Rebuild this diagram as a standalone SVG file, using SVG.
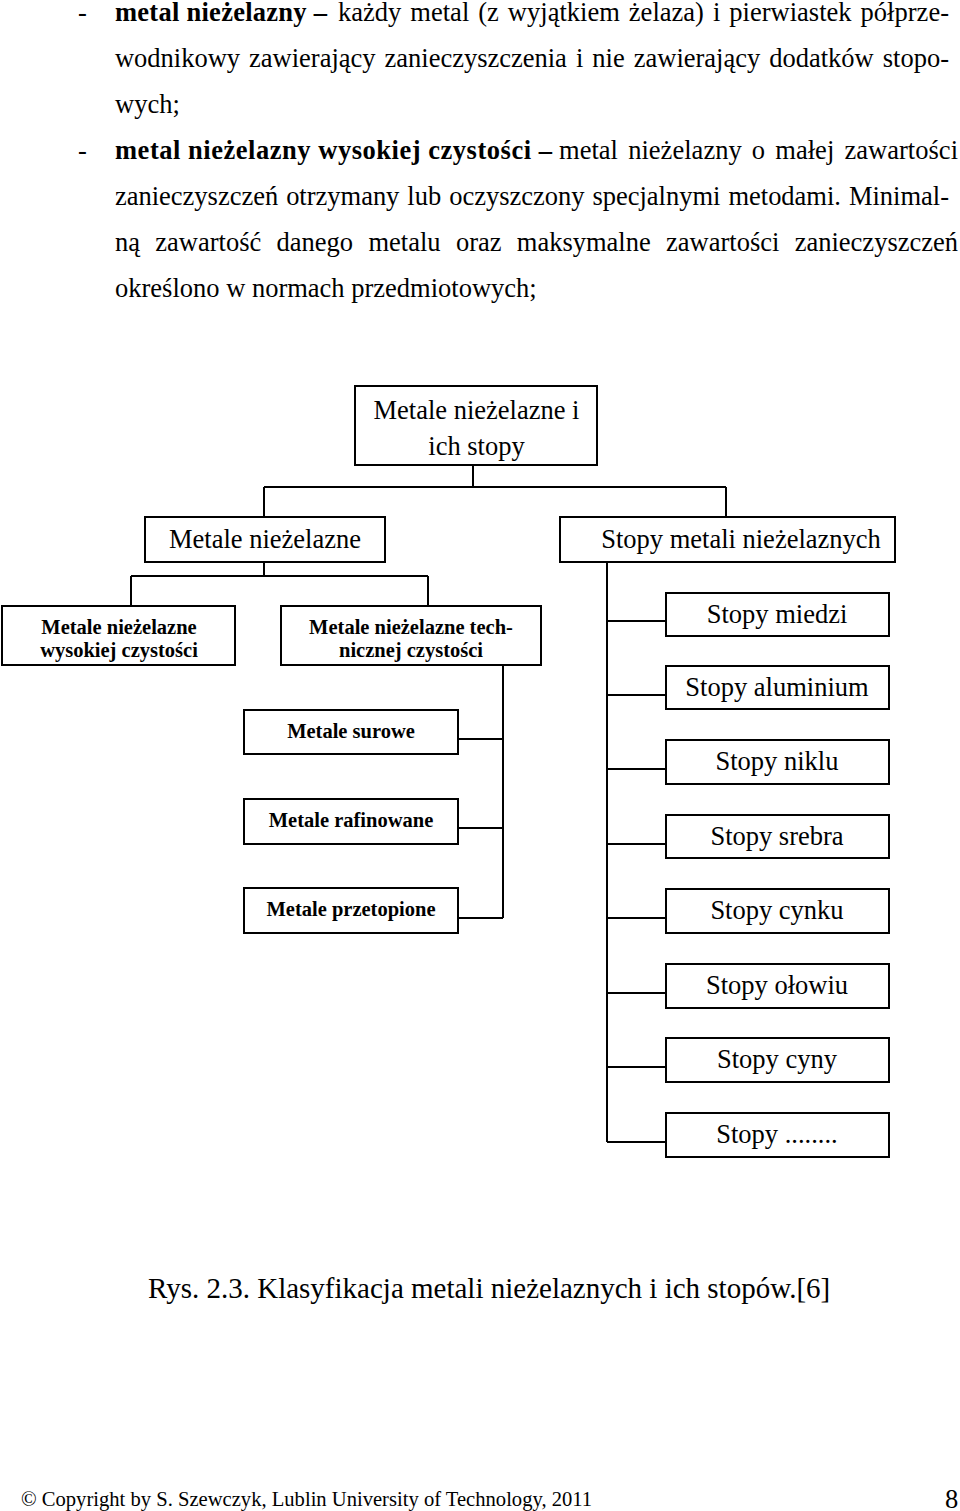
<svg xmlns="http://www.w3.org/2000/svg" width="960" height="1511" viewBox="0 0 960 1511">
<style>
text{font-family:"Liberation Serif","Times New Roman",serif;fill:#000}
.body{font-size:26.5px}
.b{font-weight:bold}
.box{fill:#fff;stroke:#000;stroke-width:2}
.lbl{font-size:26.5px;text-anchor:middle}
.blbl{font-size:20.5px;font-weight:bold;text-anchor:middle}
.con{fill:none;stroke:#000;stroke-width:2}
</style>
<rect width="960" height="1511" fill="#fff"/>
<g id="bodytext">
<text class="body" x="78" y="21">-</text>
<text class="body b" x="115" y="21" textLength="212" lengthAdjust="spacing">metal nieżelazny –</text>
<text class="body" x="338" y="21" word-spacing="2.3" textLength="611" lengthAdjust="spacing">każdy metal (z wyjątkiem żelaza) i pierwiastek półprze-</text>
<text class="body" x="115" y="67" word-spacing="2.5" textLength="834" lengthAdjust="spacing">wodnikowy zawierający zanieczyszczenia i nie zawierający dodatków stopo-</text>
<text class="body" x="115" y="113">wych;</text>
<text class="body" x="78" y="159">-</text>
<text class="body b" x="115" y="159" textLength="437" lengthAdjust="spacing">metal nieżelazny wysokiej czystości –</text>
<text class="body" x="559" y="159" word-spacing="3.5" textLength="399" lengthAdjust="spacing">metal nieżelazny o małej zawartości</text>
<text class="body" x="115" y="205" word-spacing="1.4" textLength="834" lengthAdjust="spacing">zanieczyszczeń otrzymany lub oczyszczony specjalnymi metodami. Minimal-</text>
<text class="body" x="115" y="251" word-spacing="8.7" textLength="843" lengthAdjust="spacing">ną zawartość danego metalu oraz maksymalne zawartości zanieczyszczeń</text>
<text class="body" x="115" y="297">określono w normach przedmiotowych;</text>
</g>
<g id="connectors">
<path class="con" d="M473,465V487M264,487H726M264,487V517M726,487V517"/>
<path class="con" d="M264,562V576M131,576H428M131,576V606M428,576V606"/>
<path class="con" d="M503,665V918M458,739H503M458,828H503M458,918H503"/>
<path class="con" d="M607,562V1142M607,621H666M607,695H666M607,769H666M607,844H666M607,918H666M607,993H666M607,1067H666M607,1142H666"/>
</g>
<g id="n-root"><rect class="box" x="355" y="386" width="242" height="79"/><text class="lbl" x="476.5" y="419">Metale nieżelazne i</text><text class="lbl" x="476.5" y="455">ich stopy</text></g>
<g id="n-metale"><rect class="box" x="145" y="517" width="240" height="45"/><text class="lbl" x="265" y="548">Metale nieżelazne</text></g>
<g id="n-stopy"><rect class="box" x="560" y="517" width="335" height="45"/><text class="lbl" x="741" y="548">Stopy metali nieżelaznych</text></g>
<g id="n-wysokiej"><rect class="box" x="2" y="606" width="233" height="59"/><text class="blbl" x="119" y="634">Metale nieżelazne</text><text class="blbl" x="119" y="657">wysokiej czystości</text></g>
<g id="n-techniczne"><rect class="box" x="281" y="606" width="260" height="59"/><text class="blbl" x="411" y="634">Metale nieżelazne tech-</text><text class="blbl" x="411" y="657">nicznej czystości</text></g>
<g id="n-surowe"><rect class="box" x="244" y="710" width="214" height="44"/><text class="blbl" x="351" y="738">Metale surowe</text></g>
<g id="n-rafinowane"><rect class="box" x="244" y="799" width="214" height="45"/><text class="blbl" x="351" y="827">Metale rafinowane</text></g>
<g id="n-przetopione"><rect class="box" x="244" y="888" width="214" height="45"/><text class="blbl" x="351" y="916">Metale przetopione</text></g>
<g id="n-miedzi"><rect class="box" x="666" y="593" width="223" height="43"/><text class="lbl" x="777" y="623">Stopy miedzi</text></g>
<g id="n-aluminium"><rect class="box" x="666" y="666" width="223" height="43"/><text class="lbl" x="777" y="696">Stopy aluminium</text></g>
<g id="n-niklu"><rect class="box" x="666" y="740" width="223" height="44"/><text class="lbl" x="777" y="770">Stopy niklu</text></g>
<g id="n-srebra"><rect class="box" x="666" y="815" width="223" height="43"/><text class="lbl" x="777" y="845">Stopy srebra</text></g>
<g id="n-cynku"><rect class="box" x="666" y="889" width="223" height="44"/><text class="lbl" x="777" y="919">Stopy cynku</text></g>
<g id="n-olowiu"><rect class="box" x="666" y="964" width="223" height="44"/><text class="lbl" x="777" y="994">Stopy ołowiu</text></g>
<g id="n-cyny"><rect class="box" x="666" y="1038" width="223" height="44"/><text class="lbl" x="777" y="1068">Stopy cyny</text></g>
<g id="n-inne"><rect class="box" x="666" y="1113" width="223" height="44"/><text class="lbl" x="777" y="1143">Stopy ........</text></g>
<g id="caption"><text x="148" y="1298" font-size="29">Rys. 2.3. Klasyfikacja metali nieżelaznych i ich stopów.[6]</text></g>
<g id="footer"><text x="21" y="1506" font-size="20.6">© Copyright by S. Szewczyk, Lublin University of Technology, 2011</text><text x="945" y="1508" font-size="26.5">8</text></g>
</svg>
